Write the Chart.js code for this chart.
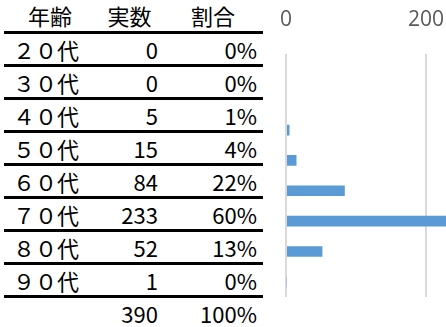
<!DOCTYPE html>
<html lang="ja">
<head>
  <meta charset="UTF-8">
  <title>年齢別 実数</title>
  <script src="https://cdn.jsdelivr.net/npm/chart.js"></script>
  <style>
    html, body { margin: 0; padding: 0; background: #fff; overflow: hidden; width: 446px; height: 327px; }
    #tbl { position: absolute; left: 4px; top: 0; width: 259px; border-collapse: collapse; table-layout: fixed;
           font-family: "Noto Sans CJK JP", sans-serif; font-size: 22px; color: #000; }
    #tbl td, #tbl th { padding: 0; height: 30px; line-height: 30px; white-space: nowrap; font-weight: normal; }
    #tbl th { height: 31px; line-height: 29px; text-align: center; border-bottom: 3px solid #000; }
    #tbl tbody tr td { border-bottom: 3px solid #000; }
    #tbl tfoot td { border: none; }
    #tbl .c1 { padding-left: 9px; text-align: left; }
    #tbl .c2 { padding-right: 5px; text-align: right; }
    #tbl .c3 { padding-right: 6px; text-align: right; }
    #wrap { position: absolute; left: 270px; top: -15px; width: 296px; height: 342px; }
  </style>
</head>
<body>
  <table id="tbl">
    <colgroup><col style="width:92px"><col style="width:67px"><col style="width:100px"></colgroup>
    <thead><tr><th>年齢</th><th>実数</th><th>割合</th></tr></thead>
    <tbody id="rows"></tbody>
    <tfoot><tr><td class="c1"></td><td class="c2" id="tot"></td><td class="c3" id="totPct"></td></tr></tfoot>
  </table>
  <div id="wrap"><canvas id="myChart"></canvas></div>
  <script>
    // 表とグラフのデータ
    const ages = ['２０代', '３０代', '４０代', '５０代', '６０代', '７０代', '８０代', '９０代'];
    const counts = [0, 0, 5, 15, 84, 233, 52, 1];
    const percents = ['0%', '0%', '1%', '4%', '22%', '60%', '13%', '0%'];
    const total = '390';
    const totalPct = '100%';
    const xTicks = [0, 200, 400];

    var rows = document.getElementById('rows');
    for (var i = 0; i < ages.length; i++) {
      var tr = document.createElement('tr');
      tr.innerHTML = '<td class="c1">' + ages[i] + '</td><td class="c2">' + counts[i] +
        '</td><td class="c3">' + percents[i] + '</td>';
      rows.appendChild(tr);
    }
    document.getElementById('tot').textContent = total;
    document.getElementById('totPct').textContent = totalPct;

    var ctx = document.getElementById('myChart').getContext('2d');
    var myChart = new Chart(ctx, {
      type: 'bar',
      data: {
        labels: ages,
        datasets: [{
          data: counts,
          backgroundColor: '#5B9BD5',
          borderWidth: 0,
          categoryPercentage: 1,
          barPercentage: 0.35
        }]
      },
      options: {
        indexAxis: 'y',
        responsive: true,
        maintainAspectRatio: false,
        animation: false,
        layout: { padding: { left: 16, right: 0, top: 0, bottom: 30 } },
        plugins: { legend: { display: false }, tooltip: { enabled: false } },
        scales: {
          x: {
            position: 'top',
            min: xTicks[0],
            max: xTicks[xTicks.length - 1],
            afterBuildTicks: function(axis) { axis.ticks = xTicks.map(function(v) { return { value: v }; }); },
            afterFit: function(axis) { axis.paddingLeft = 0; axis.paddingRight = 0; },
            grid: { color: '#d9d9d9', lineWidth: 2, drawTicks: false },
            border: { display: false },
            ticks: { color: '#595959', padding: 22, font: { family: 'Open Sans', size: 21 } }
          },
          y: { display: false }
        }
      }
    });
  </script>
</body>
</html>
